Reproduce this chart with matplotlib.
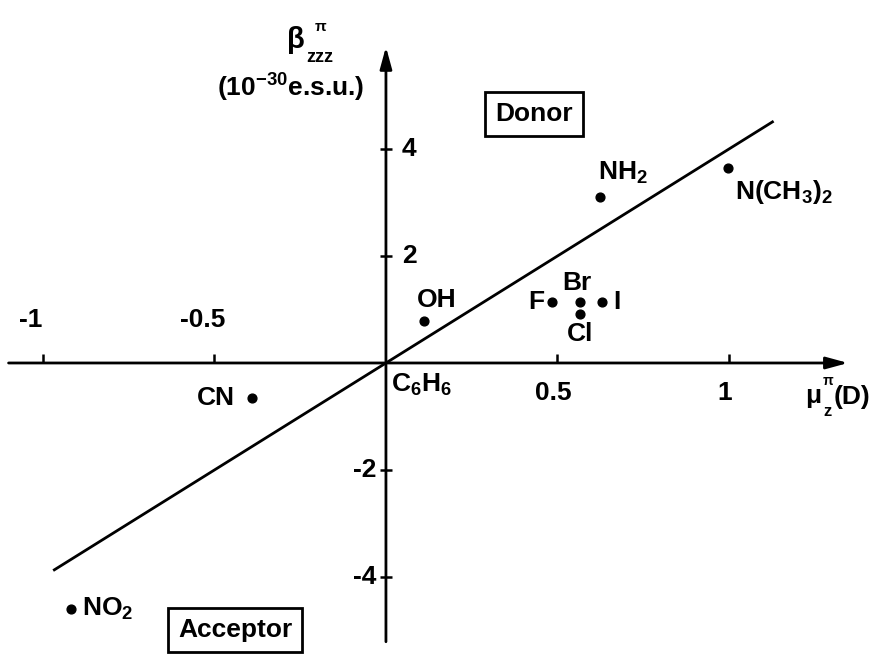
import matplotlib
matplotlib.use('Agg')
import matplotlib.pyplot as plt

plt.rcParams['font.family'] = ['Liberation Sans', 'DejaVu Sans']
plt.rcParams['font.weight'] = 'bold'
plt.rcParams['mathtext.fontset'] = 'custom'
plt.rcParams['mathtext.rm'] = 'Liberation Sans:bold'
plt.rcParams['mathtext.bf'] = 'Liberation Sans:bold'
plt.rcParams['mathtext.it'] = 'Liberation Sans:bold'
plt.rcParams['mathtext.sf'] = 'Liberation Sans:bold'
plt.rcParams['mathtext.default'] = 'bf'

# substituent, dipole mu_z (D), hyperpolarizability beta_zzz (1e-30 esu)
names = ['NH$_2$', 'N(CH$_3$)$_2$', 'OH', 'F', 'Br', 'I', 'Cl', 'CN', 'NO$_2$', 'C$_6$H$_6$']
mu = [0.624, 0.997, 0.111, 0.484, 0.566, 0.630, 0.566, -0.391, -0.918, 0.0]
beta = [3.10, 3.64, 0.785, 1.14, 1.14, 1.14, 0.92, -0.654, -4.60, 0.0]

# label placement (pixel offsets from the point, horizontal alignment)
offsets = [(-2, 24), (7, -24), (-7, 21), (-8, 0), (-3, 19), (11, 0), (0, -20), (-17, 0), (11, 0), (5, -22)]
aligns = ['left', 'left', 'left', 'right', 'center', 'left', 'center', 'right', 'left', 'left']

# linear trend beta = k * mu
slope = 4.0
fit_x = [-0.97, 1.13]

xticks = [-1, -0.5, 0.5, 1]
xtick_labels = ['-1', '-0.5', '0.5', '1']
yticks = [-4, -2, 2, 4]
ytick_labels = ['-4', '-2', '2', '4']

W, H = 881, 656
fig = plt.figure(figsize=(W / 100, H / 100), dpi=100)
ax = fig.add_axes([0, 0, 1, 1])
ax.set_xlim(-1.125, 1.443)
ax.set_ylim(-5.477, 6.785)
ax.axis('off')


def px(x, y):
    # pixel position from the top-left corner -> figure fraction
    return x / W, 1 - y / H


fs = 19
arrow = dict(arrowstyle='-|>,head_length=1.1,head_width=0.3', lw=2.0, color='black',
             shrinkA=0, shrinkB=0, mutation_scale=12)

# axes with arrow heads
ax.annotate('', xy=(1.347, 0), xytext=(-1.10, 0), arrowprops=arrow)
ax.annotate('', xy=(0, 5.91), xytext=(0, -5.21), arrowprops=arrow)

# tick marks
ax.vlines(xticks, 0, 0.17, color='black', lw=1.8)
ax.hlines(yticks, -0.017, 0.017, color='black', lw=1.8)

for t, lab in zip(xticks, xtick_labels):
    if t < 0:
        ax.annotate(lab, (t, 0), xytext=(-12, 43), textcoords='offset pixels',
                    ha='center', va='center', fontsize=fs)
    else:
        ax.annotate(lab, (t, 0), xytext=(-4, -30), textcoords='offset pixels',
                    ha='center', va='center', fontsize=fs)

for t, lab in zip(yticks, ytick_labels):
    if t < 0:
        ax.annotate(lab, (0, t), xytext=(-10, 0), textcoords='offset pixels',
                    ha='right', va='center', fontsize=fs)
    else:
        ax.annotate(lab, (0, t), xytext=(16, 0), textcoords='offset pixels',
                    ha='left', va='center', fontsize=fs)

# trend line
ax.plot(fit_x, [slope * v for v in fit_x], color='black', lw=2.0, solid_capstyle='butt')

# data points (benzene sits at the origin, no dot)
ax.scatter(mu[:-1], beta[:-1], s=40, color='black', zorder=3)

for n, x, y, off, ha in zip(names, mu, beta, offsets, aligns):
    ax.annotate(n, (x, y), xytext=off, textcoords='offset pixels',
                ha=ha, va='center', fontsize=fs)

# region boxes
box = dict(boxstyle='square,pad=0.38', fc='white', ec='black', lw=2.0)
fig.text(*px(534, 114), 'Donor', ha='center', va='center', fontsize=fs, bbox=box)
fig.text(*px(235, 630), 'Acceptor', ha='center', va='center', fontsize=fs, bbox=box)

# axis titles
fig.text(*px(296, 40), 'β', ha='center', va='center', fontsize=21)
fig.text(*px(321, 27), 'π', ha='center', va='center', fontsize=11)
fig.text(*px(320, 57), 'zzz', ha='center', va='center', fontsize=13)
fig.text(*px(364, 88), '(10$^{-30}$e.s.u.)', ha='right', va='center', fontsize=fs)

fig.text(*px(813, 396), 'μ', ha='center', va='center', fontsize=fs)
fig.text(*px(828, 381), 'π', ha='center', va='center', fontsize=10)
fig.text(*px(827, 411), 'z', ha='center', va='center', fontsize=12)
fig.text(*px(834, 397), '(D)', ha='left', va='center', fontsize=fs)

fig.savefig('out.png', dpi=100, facecolor='white')
